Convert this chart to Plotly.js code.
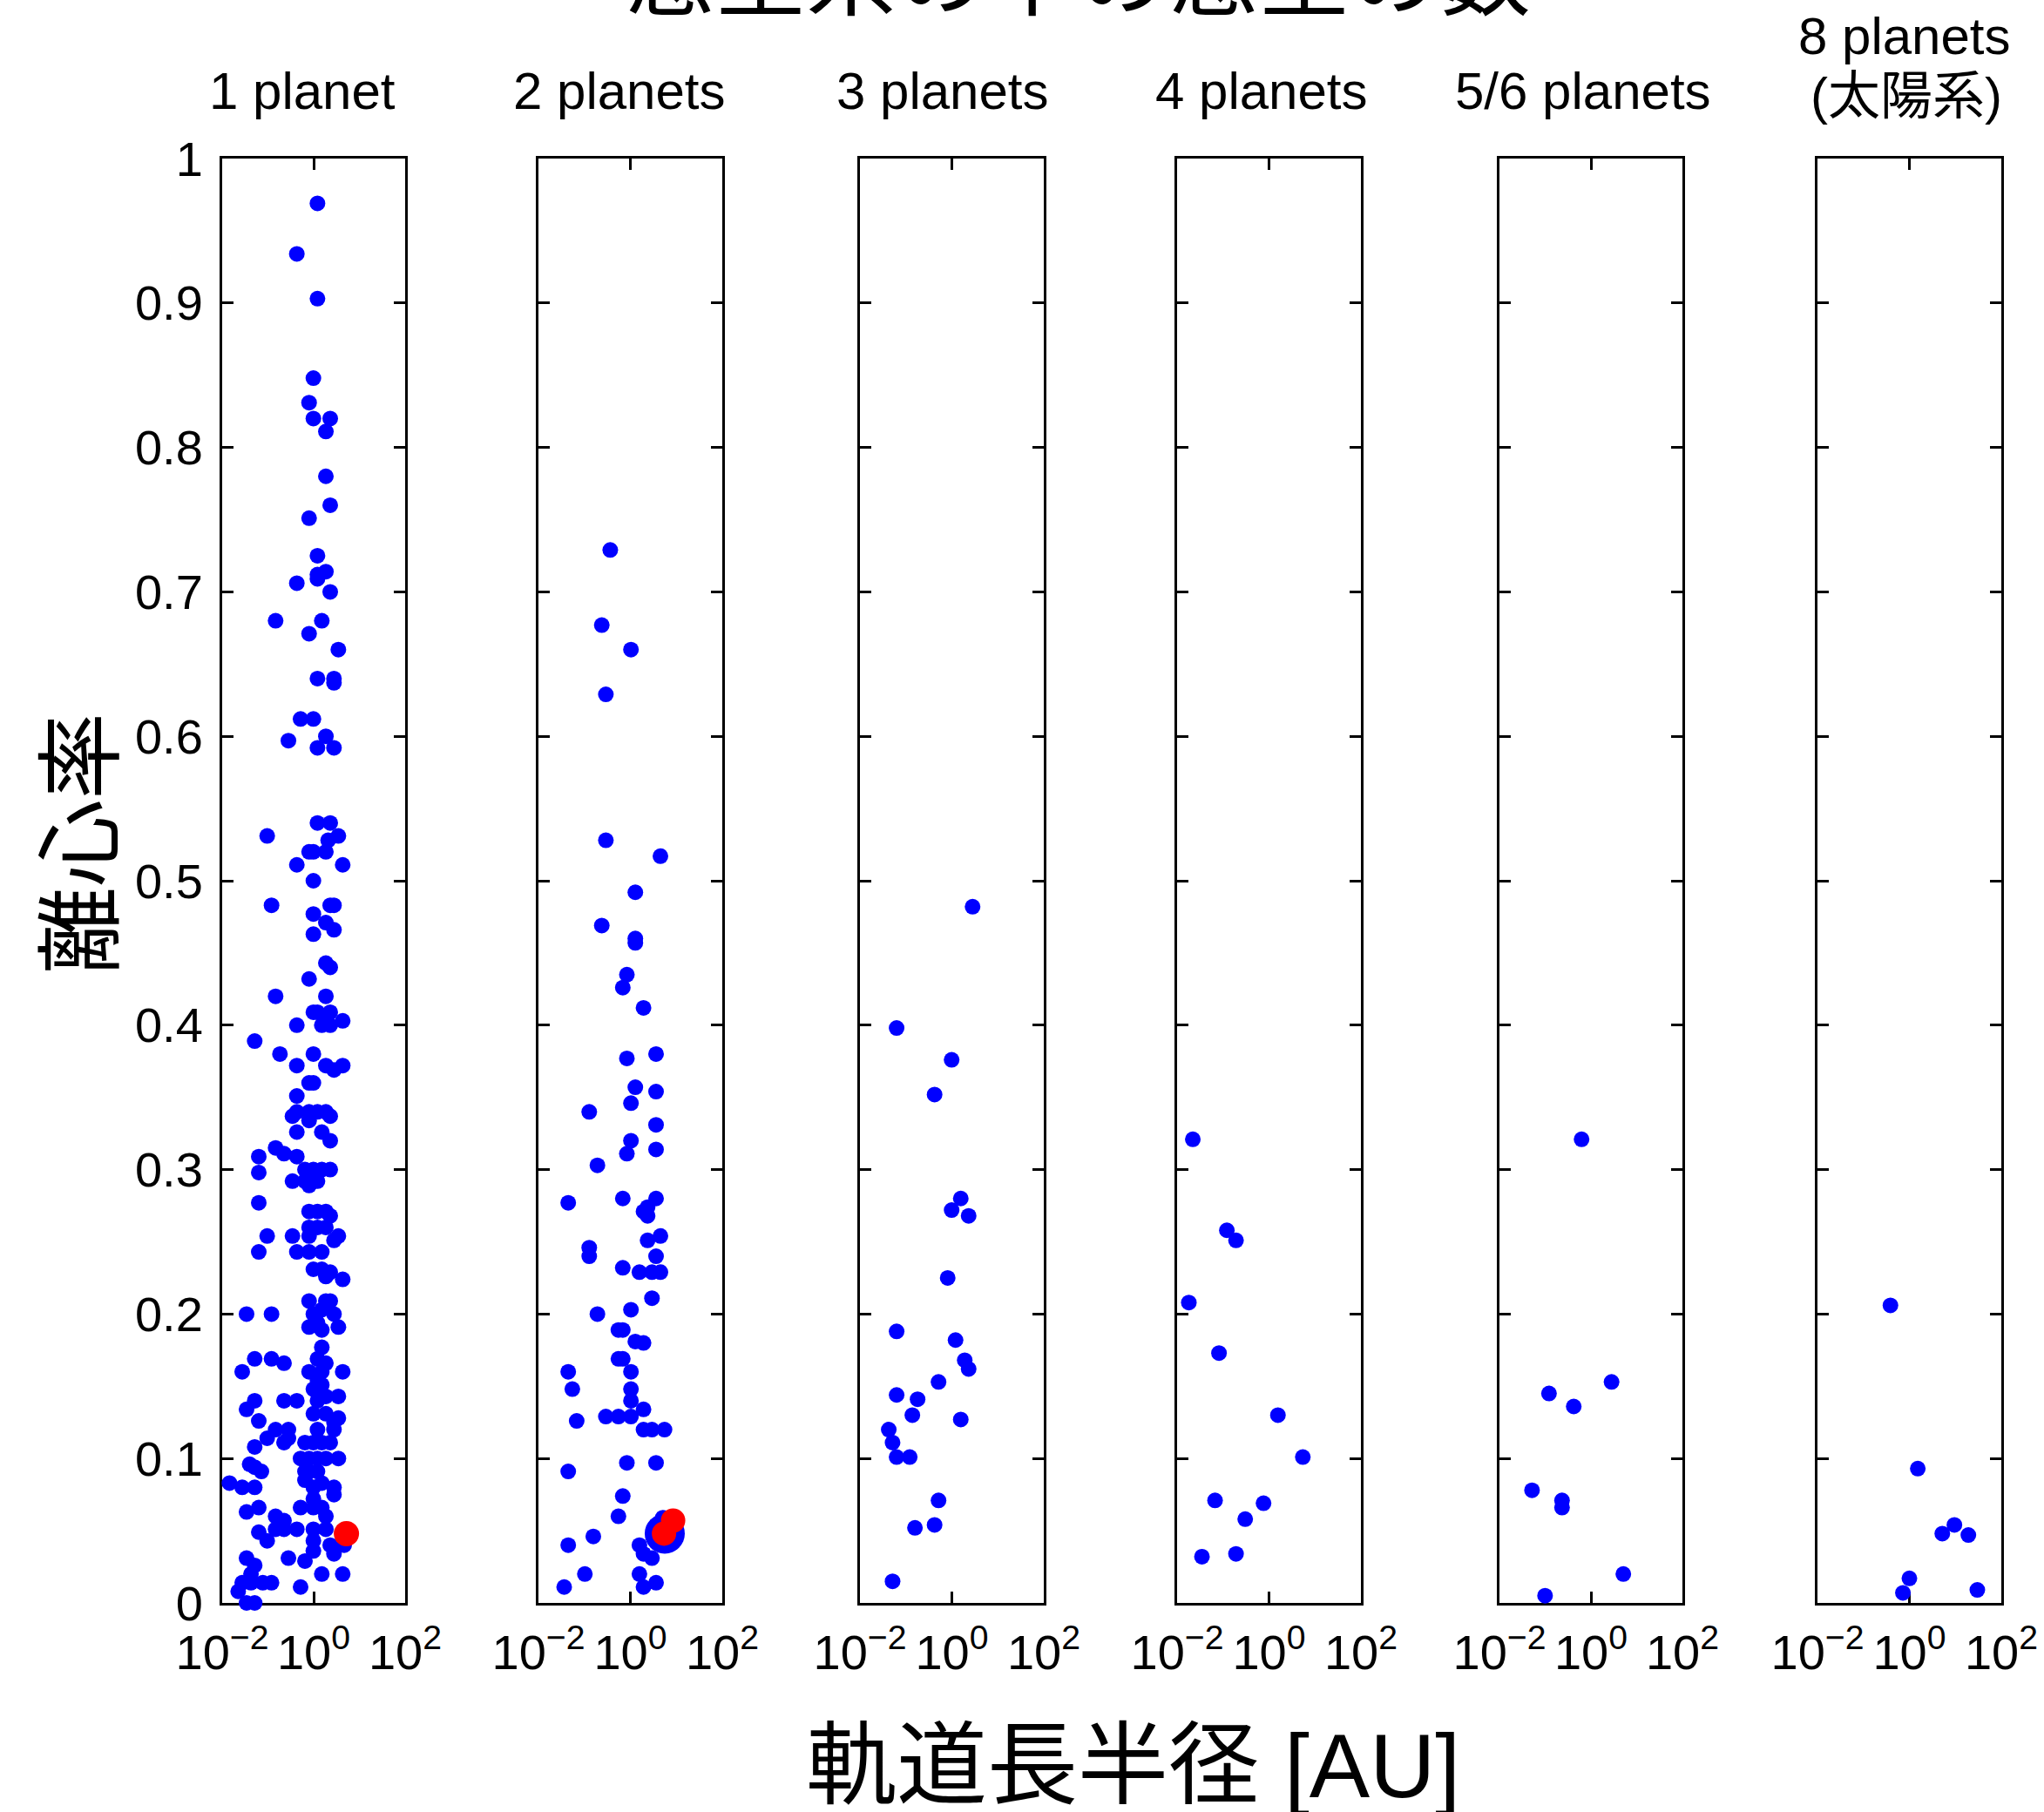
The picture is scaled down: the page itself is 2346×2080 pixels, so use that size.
<!DOCTYPE html>
<html><head><meta charset="utf-8">
<script src="https://cdn.plot.ly/plotly-3.0.1.min.js"></script>
<style>html,body{margin:0;padding:0;background:#fff}</style>
</head><body><div id="chart" style="width:2346px;height:2080px"></div>
<script>
// ---------------- DATA ----------------
const mainTitle = "惑星系の中の惑星の数";
const xTitle = "軌道長半径 [AU]";
const yTitle = "離心率";
const panelTitles = ["1 planet", "2 planets", "3 planets", "4 planets", "5/6 planets", "8 planets", "(太陽系)"];
const xTickVals = [0.01, 1, 100];
const xTickText = ["10<sup>\u22122</sup>", "10<sup>0</sup>", "10<sup>2</sup>"];
const yTickVals = [0, 0.1, 0.2, 0.3, 0.4, 0.5, 0.6, 0.7, 0.8, 0.9, 1];
const yTickText = ["0", "0.1", "0.2", "0.3", "0.4", "0.5", "0.6", "0.7", "0.8", "0.9", "1"];

// log10(semi-major axis / AU) and eccentricity
const p1_log10a = [
 0.083,-0.368,0.083,-0.006,-0.10,-0.006,0.362,0.267,0.267,0.362,-0.10,0.083,
 0.267,0.083,0.083,-0.368,0.362,-0.832,0.178,-0.10,0.54,0.083,0.444,0.444,-0.286,-0.006,-0.552,0.267,0.083,0.444,0.083,0.362,-1.016,0.54,0.317,-0.10,-0.006,0.267,-0.368,0.635,-0.006,-0.921,0.362,0.444,-0.006,0.267,0.444,-0.006,0.267,
 0.362,-0.10,-0.832,0.267,-0.006,0.083,0.362,0.267,0.635,-0.368,0.178,0.362,-1.289,-0.737,-0.006,-0.368,0.267,0.444,0.635,-0.10,-0.006,-0.368,-0.368,-0.463,-0.10,0.083,0.267,0.362,-0.10,-0.368,0.178,0.362,-0.832,-0.648,-0.368,-1.2,-1.2,-0.19,-0.006,0.178,0.362,-0.463,-0.19,-0.006,0.083,-0.10,-1.2,-0.10,0.083,0.267,0.362,-0.10,0.083,0.267,-1.016,-0.463,-0.10,0.444,0.54,-1.2,-0.368,-0.10,0.178,-0.006,0.178,0.362,0.635,0.267,
 -0.10,0.267,0.362,-1.467,-0.921,-0.006,0.178,0.444,-0.10,0.083,0.178,0.54,0.178,-1.289,-0.921,-0.648,0.083,0.267,-1.562,-0.10,0.178,0.635,0.083,0.178,-0.006,-1.289,-0.648,-0.368,0.083,0.267,0.54,-1.467,-0.006,0.267,-1.2,0.54,0.444,-0.832,-0.552,-1.016,-0.648,-0.552,-0.19,-0.006,0.178,0.362,-1.289,0.083,0.444,-0.286,-0.10,0.083,0.267,0.54,-0.19,-0.10,0.083,-1.289,-1.143,-1.40,-1.84,-1.562,-1.289,-0.19,-0.006,0.178,0.444,0.444,-0.006,-1.2,-1.467,-0.286,-0.006,0.178,0.267,-0.832,-0.648,-1.2,-1.016,-0.832,-0.648,-0.368,-0.006,0.267,-0.006,-0.006,0.362,0.667,0.444,-0.552,-0.19,-1.467,-1.289,-1.37,0.178,0.635,-1.562,-1.37,-1.111,-0.921,-1.65,-0.286,-1.467,-1.289
];
const p1_e = [
 0.969,0.934,0.903,0.848,0.831,0.820,0.820,0.811,0.780,0.760,0.751,0.725,
 0.714,0.712,0.709,0.706,0.700,0.680,0.680,0.671,0.660,0.640,0.640,0.637,0.612,0.612,0.597,0.600,0.592,0.592,0.540,0.540,0.531,0.531,0.528,0.520,0.520,0.520,0.511,0.511,0.500,0.483,0.483,0.483,0.477,0.471,0.466,0.463,0.443,
 0.440,0.432,0.420,0.420,0.409,0.409,0.409,0.403,0.403,0.400,0.400,0.400,0.389,0.380,0.380,0.372,0.372,0.369,0.372,0.360,0.360,0.351,0.340,0.337,0.340,0.340,0.340,0.337,0.334,0.326,0.326,0.320,0.315,0.311,0.309,0.309,0.298,0.300,0.300,0.300,0.300,0.292,0.292,0.292,0.292,0.289,0.277,0.271,0.271,0.271,0.268,0.260,0.260,0.260,0.254,0.254,0.254,0.251,0.254,0.243,0.243,0.243,0.243,0.231,0.231,0.229,0.224,0.226,
 0.209,0.209,0.209,0.200,0.200,0.200,0.203,0.200,0.191,0.194,0.189,0.191,0.177,0.169,0.169,0.166,0.169,0.166,0.160,0.160,0.160,0.160,0.154,0.151,0.148,0.140,0.140,0.140,0.140,0.143,0.143,0.134,0.131,0.131,0.126,0.128,0.125,0.120,0.120,0.114,0.111,0.114,0.111,0.111,0.111,0.111,0.108,0.120,0.120,0.100,0.100,0.100,0.100,0.100,0.091,0.091,0.091,0.094,0.091,0.096,0.083,0.080,0.080,0.085,0.080,0.083,0.080,0.075,0.072,0.066,0.063,0.066,0.066,0.066,0.060,0.060,0.057,0.049,0.043,0.051,0.051,0.051,0.051,0.051,0.043,0.036,0.040,0.040,0.034,0.031,0.029,0.031,0.026,0.020,0.020,0.020,0.014,0.014,0.014,0.014,0.008,0.011,0.000,0.000
];
const p1_red_a = [5.2];
const p1_red_e = [0.048];

const p2_log10a = [
 -0.438,-0.622,0.013,-0.533,-0.533,0.654,0.108,
 -0.622,0.108,0.108,-0.076,-0.165,0.286,-0.076,0.559,0.108,0.559,0.013,-0.895,0.559,0.013,-0.076,0.559,-0.717,-1.352,-0.165,0.559,0.286,0.375,0.375,0.375,0.654,-0.895,-0.895,0.559,
 -0.165,0.197,0.47,0.654,0.47,-0.717,0.013,-0.26,-0.165,0.108,0.286,-0.26,-0.165,-1.352,0.013,-1.263,0.013,0.013,0.286,-1.168,-0.533,-0.26,0.013,0.286,0.47,0.743,-1.352,-0.076,0.559,-0.165,-0.26,-0.806,-1.352,0.197,0.286,0.47,0.705,-0.99,-1.44,0.197,0.286,0.559
];
const p2_e = [
 0.729,0.677,0.660,0.629,0.528,0.517,0.492,
 0.469,0.460,0.457,0.435,0.426,0.412,0.377,0.380,0.357,0.354,0.346,0.340,0.331,0.320,0.311,0.314,0.303,0.277,0.280,0.280,0.271,0.268,0.274,0.251,0.254,0.246,0.240,0.240,
 0.232,0.229,0.229,0.229,0.211,0.200,0.203,0.189,0.189,0.181,0.180,0.169,0.169,0.160,0.160,0.148,0.148,0.140,0.134,0.126,0.129,0.129,0.129,0.120,0.120,0.120,0.091,0.097,0.097,0.074,0.060,0.046,0.040,0.040,0.034,0.031,0.059,0.020,0.011,0.020,0.011,0.014
];
const p2_big_a = [5.6];
const p2_big_e = [0.048];
const p2_red_a = [5.4, 8.5];
const p2_red_e = [0.048, 0.057];

const p3_log10a = [0.451,-1.202,-0.005,-0.376,0.194,-0.005,0.365,-0.091,-1.202,0.08,0.28,0.365,-0.29,-1.202,-0.746,-0.86,0.194,-1.373,-1.29,-1.202,-0.917,-0.29,-0.376,-0.803,-1.29];
const p3_e = [0.482,0.398,0.376,0.352,0.280,0.272,0.268,0.225,0.188,0.182,0.168,0.162,0.153,0.144,0.141,0.130,0.127,0.120,0.111,0.101,0.101,0.071,0.054,0.052,0.015];

const p4_log10a = [-1.658,-0.917,-0.718,-1.744,-1.088,0.194,0.736,-1.174,-0.119,-0.518,-0.718,-1.459];
const p4_e = [0.321,0.258,0.251,0.208,0.173,0.130,0.101,0.071,0.069,0.058,0.034,0.032];

const p5_log10a = [-0.205,0.451,-0.917,-0.376,-1.288,-0.632,-0.632,0.708,-1.003];
const p5_e = [0.321,0.153,0.145,0.136,0.078,0.071,0.066,0.020,0.005];

// Solar system (AU)
const p6_a = [0.387,0.723,1.0,1.524,5.20,9.54,19.19,30.07];
const p6_e = [0.206,0.007,0.017,0.093,0.048,0.054,0.047,0.009];

// ---------------- LAYOUT ----------------
const W = 2346, H = 2080;
const FONT = 'Liberation Sans, Arial, Helvetica, "Noto Sans CJK JP", sans-serif';
const boxL = [255, 618, 987, 1351, 1721, 2086];
const boxR = [465, 829, 1198, 1562, 1931, 2297];
const boxTop = 182, boxBottom = 1840;
const titleX = [347, 711, 1082, 1448, 1817, 2186, 2188];
const titleY = [104, 104, 104, 104, 104, 41, 110];

const pow10 = arr => arr.map(v => Math.pow(10, v));
const blue = '#0000ff', red = '#ff0000';
const panels = [
  [{x: pow10(p1_log10a), y: p1_e, c: blue, s: 18}, {x: p1_red_a, y: p1_red_e, c: red, s: 29}],
  [{x: pow10(p2_log10a), y: p2_e, c: blue, s: 18}, {x: p2_big_a, y: p2_big_e, c: blue, s: 46}, {x: p2_red_a, y: p2_red_e, c: red, s: 28}],
  [{x: pow10(p3_log10a), y: p3_e, c: blue, s: 18}],
  [{x: pow10(p4_log10a), y: p4_e, c: blue, s: 18}],
  [{x: pow10(p5_log10a), y: p5_e, c: blue, s: 18}],
  [{x: p6_a, y: p6_e, c: blue, s: 18}]
];

const data = [];
const layout = {
  width: W, height: H,
  margin: {l: 0, r: 0, t: 0, b: 0},
  paper_bgcolor: '#fff', plot_bgcolor: '#fff',
  showlegend: false,
  font: {family: FONT, color: '#000'},
  annotations: []
};

panels.forEach((traces, i) => {
  const n = i + 1;
  const sx = n === 1 ? '' : String(n);
  traces.forEach(t => {
    data.push({
      type: 'scatter', mode: 'markers', x: t.x, y: t.y,
      xaxis: 'x' + sx, yaxis: 'y' + sx,
      marker: {color: t.c, size: t.s, line: {width: 0}},
      cliponaxis: false, hoverinfo: 'skip'
    });
  });
  const common = {
    showline: true, linewidth: 3, linecolor: '#000', mirror: 'ticks',
    ticks: 'inside', ticklen: 13, tickwidth: 3, tickcolor: '#000',
    showgrid: false, zeroline: false, fixedrange: true, layer: 'below traces',
    tickfont: {family: FONT, size: 56, color: '#000'}
  };
  layout['xaxis' + sx] = Object.assign({}, common, {
    domain: [boxL[i] / W, boxR[i] / W], anchor: 'y' + sx,
    type: 'log', range: [-2, 2],
    tickmode: 'array', tickvals: xTickVals, ticktext: xTickText,
    ticklabelstandoff: 6
  });
  layout['yaxis' + sx] = Object.assign({}, common, {
    domain: [1 - boxBottom / H, 1 - boxTop / H], anchor: 'x' + sx,
    range: [0, 1],
    tickmode: 'array', tickvals: yTickVals, ticktext: yTickText,
    showticklabels: n === 1, ticklabelstandoff: 8
  });
});

panelTitles.forEach((t, i) => {
  layout.annotations.push({
    text: t, xref: 'paper', yref: 'paper',
    x: titleX[i] / W, y: 1 - titleY[i] / H,
    xanchor: 'center', yanchor: 'middle', showarrow: false,
    font: {family: FONT, size: 60, color: '#000'}
  });
});
layout.annotations.push({
  text: mainTitle, xref: 'paper', yref: 'paper',
  x: 1237 / W, y: 1 + 36 / H, xanchor: 'center', yanchor: 'middle', showarrow: false,
  font: {family: '"Noto Sans CJK JP", sans-serif', size: 104, color: '#000'}
});
layout.annotations.push({
  text: xTitle, xref: 'paper', yref: 'paper',
  x: 1300 / W, y: 1 - 2027 / H, xanchor: 'center', yanchor: 'middle', showarrow: false,
  font: {family: FONT, size: 104, color: '#000'}
});
layout.annotations.push({
  text: yTitle, xref: 'paper', yref: 'paper',
  x: 84 / W, y: 1 - 968 / H, xanchor: 'center', yanchor: 'middle', showarrow: false,
  textangle: -90,
  font: {family: '"Noto Sans CJK JP", sans-serif', size: 100, color: '#000'}
});

Plotly.newPlot('chart', data, layout, {staticPlot: true, displayModeBar: false});
</script>
</body></html>
